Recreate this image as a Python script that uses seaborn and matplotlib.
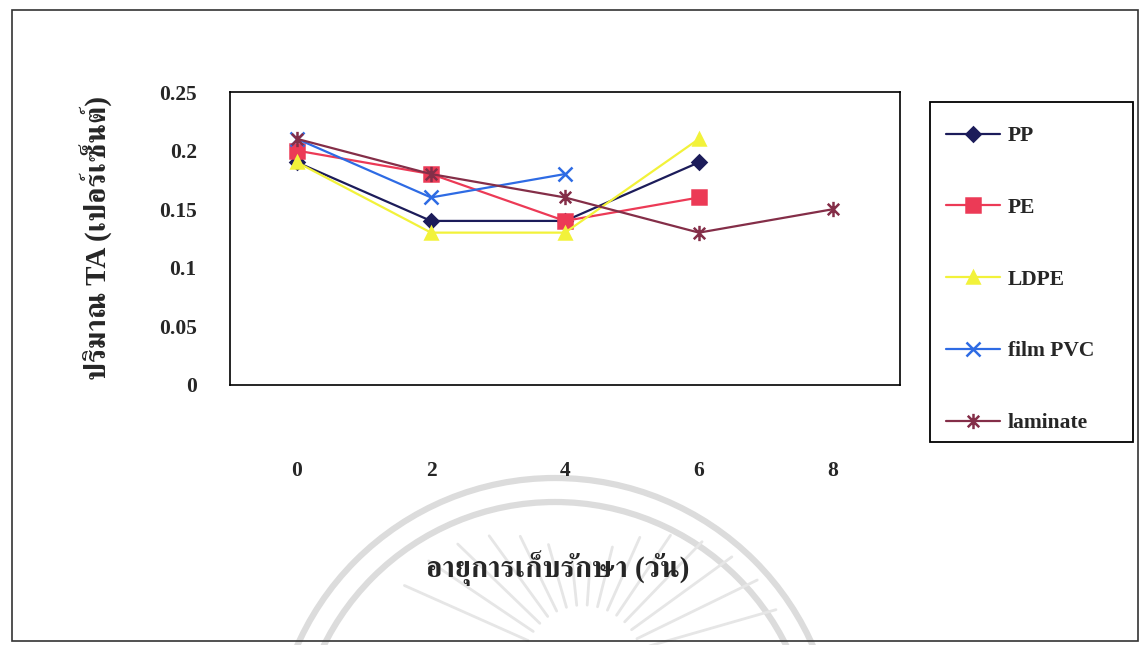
import matplotlib
matplotlib.use("Agg")
import matplotlib.pyplot as plt
import seaborn as sns
import numpy as np
from matplotlib.path import Path
from matplotlib.patches import Rectangle, Arc

# storage time categories (days)
days = ["0", "2", "4", "6", "8"]

# titratable acidity (%) for each packaging film
pp = [0.19, 0.14, 0.14, 0.19]
pe = [0.20, 0.18, 0.14, 0.16]
ldpe = [0.19, 0.13, 0.13, 0.21]
film_pvc = [0.21, 0.16, 0.18]
laminate = [0.21, 0.18, 0.16, 0.13, 0.15]

series_names = ["PP", "PE", "LDPE", "film PVC", "laminate"]
series_values = [pp, pe, ldpe, film_pvc, laminate]

y_label = "ปริมาณ TA (เปอร์เซ็นต์)"
x_label = "อายุการเก็บรักษา (วัน)"

sns.set_style("white")
plt.rcParams["font.family"] = ["Liberation Serif", "FreeSerif"]
plt.rcParams["font.weight"] = "bold"

W, H = 1142, 645

# asterisk marker: vertical bar plus a diagonal cross
star_path = Path(
    [(0, -1), (0, 1), (-0.75, -0.75), (0.75, 0.75), (-0.75, 0.75), (0.75, -0.75)],
    [Path.MOVETO, Path.LINETO, Path.MOVETO, Path.LINETO, Path.MOVETO, Path.LINETO],
)

colors = ["#1c1c5a", "#ec3a56", "#f2f23a", "#2e6be4", "#842e48"]
markers = ["D", "s", "^", "x", star_path]
msizes = [7, 9.5, 9, 10, 11]

fig = plt.figure(figsize=(W / 100, H / 100), dpi=100)
fig.patch.set_facecolor("white")

# faint seal watermark behind the chart (pixel coordinates)
bg = fig.add_axes([0, 0, 1, 1], zorder=-5)
bg.set_xlim(0, W)
bg.set_ylim(H, 0)
bg.axis("off")
seal_c = (555, 760)
for r in (282, 258):
    bg.add_patch(Arc(seal_c, 2 * r, 2 * r, theta1=180, theta2=360,
                     color="#dcdcdc", linewidth=4.5))
sun_c = (583, 665)
for th in np.deg2rad(np.arange(16, 166, 10)):
    r_in, r_out = 60, 95 + 110 * abs(np.cos(th))
    bg.plot([sun_c[0] + r_in * np.cos(th), sun_c[0] + r_out * np.cos(th)],
            [sun_c[1] - r_in * np.sin(th), sun_c[1] - r_out * np.sin(th)],
            color="#e6e6e6", linewidth=2.0, solid_capstyle="round")

ax = fig.add_axes([230 / W, 1 - 385 / H, 670 / W, 293 / H])
ax.set_facecolor("none")

for name, vals, c, m, ms in zip(series_names, series_values, colors, markers, msizes):
    pos = np.arange(len(vals))
    sns.lineplot(
        x=pos, y=vals, ax=ax, color=c, marker=m, markersize=ms,
        markeredgecolor=c, markerfacecolor=c, markeredgewidth=1.8,
        linewidth=1.6, label=name, sort=False,
    )

ax.set_xlim(-0.5, len(days) - 0.5)
ax.set_ylim(0, 0.25)
ax.set_yticks(np.arange(0, 0.2501, 0.05))
ax.set_yticklabels(["0", "0.05", "0.1", "0.15", "0.2", "0.25"])
ax.set_xticks(np.arange(-0.5, len(days)), labels=[""] * (len(days) + 1))
ax.set_xticks(np.arange(len(days)), labels=days, minor=True)
ax.tick_params(axis="x", which="major", direction="out", length=7, width=1.2, color="black")
ax.tick_params(axis="x", which="minor", length=0, pad=55, labelsize=15.5)
ax.tick_params(axis="y", direction="out", length=7, width=1.2, color="black",
               labelsize=15.5, pad=17)
for lab in ax.get_xticklabels(minor=True) + ax.get_yticklabels():
    lab.set_fontweight("bold")
for s in ax.spines.values():
    s.set_color("black")
    s.set_linewidth(1.2)
ax.grid(False)

ax.set_ylabel(y_label, fontsize=21, fontweight="bold")
ax.yaxis.set_label_coords((113 - 230) / 670, 0.5)
ax.set_xlabel("")
fig.text(558 / W, 1 - 568 / H, x_label, fontsize=21, fontweight="bold",
         ha="center", va="center")

handles, labels = ax.get_legend_handles_labels()
if ax.legend_:
    ax.legend_.remove()
leg = fig.legend(
    handles, labels, loc="upper left",
    bbox_to_anchor=(930 / W, 1 - 450 / H, 203 / W, 340 / H),
    mode="expand", frameon=False,
    labelspacing=2.4, handlelength=2.5, handletextpad=0.35,
    borderpad=0.75, borderaxespad=0,
    prop={"weight": "bold", "size": 15.5},
)
# legend frame
fig.patches.append(Rectangle((930 / W, 1 - 442 / H), 203 / W, 340 / H,
                             transform=fig.transFigure, fill=False,
                             edgecolor="black", linewidth=1.3))

# outer chart border
fig.patches.append(Rectangle((12 / W, 4 / H), 1126 / W, 631 / H,
                             transform=fig.transFigure, fill=False,
                             edgecolor="#333333", linewidth=1.2))

fig.savefig("out.png", dpi=100, facecolor="white")
